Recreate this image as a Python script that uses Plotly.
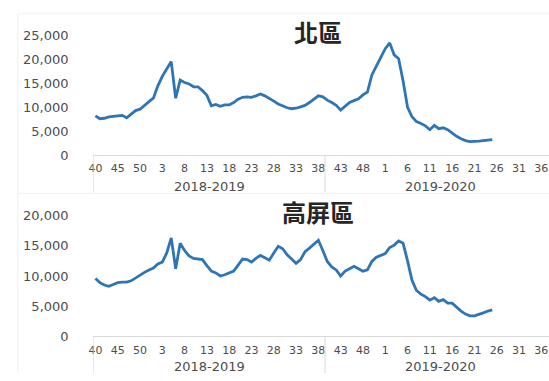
import plotly.graph_objects as go

# Epidemiological weeks 40..52 then 1..39 make up one influenza season
season_weeks = list(range(40, 53)) + list(range(1, 40))
seasons = ["2018-2019", "2019-2020"]
week_labels = season_weeks * len(seasons)

# Weekly visit counts, from week 40 of 2018 onward
north_cases = [
    8200, 7600, 7700, 8000, 8100, 8200, 8300, 7800, 8500, 9300,
    9600, 10500, 11200, 11900, 14500, 16500, 18000, 19600, 11900, 15700,
    15200, 14900, 14300, 14300, 13500, 12500, 10300, 10600, 10200, 10500,
    10500, 11000, 11700, 12100, 12200, 12100, 12400, 12800, 12400, 11900,
    11300, 10700, 10300, 9900, 9700, 9800, 10100, 10400, 11000, 11800,
    12400, 12200, 11500, 11000, 10400, 9400, 10200, 11000, 11400, 11800,
    12600, 13200, 16800, 18800, 20500, 22300, 23500, 21000, 20200, 15500,
    10000, 8000, 7000, 6600, 6100, 5300, 6200, 5500, 5700, 5300,
    4500, 3900, 3400, 3000, 2800, 2800, 2900, 3000, 3100, 3200,
]
kaoping_cases = [
    9600, 8900, 8500, 8300, 8600, 8900, 9000, 9000, 9200, 9700,
    10200, 10600, 11000, 11300, 12000, 12300, 13800, 16300, 11200, 15400,
    14200, 13300, 12900, 12800, 12700, 11700, 10800, 10500, 10000, 10200,
    10500, 10800, 11800, 12800, 12700, 12300, 12900, 13400, 13000, 12600,
    13800, 14900, 14500, 13500, 12800, 12100, 12700, 14000, 14600, 15200,
    15900, 14200, 12400, 11500, 11000, 10000, 10800, 11200, 11600, 11200,
    10800, 11000, 12400, 13100, 13400, 13700, 14700, 15100, 15800, 15400,
    12500, 9300, 7600, 7000, 6600, 6000, 6400, 5800, 6100, 5500,
    5500, 4800, 4200, 3700, 3400, 3400, 3600, 3900, 4200, 4400,
]
panel_titles = ["北區", "高屏區"]
y_max = [25000, 20000]

W, H = 549, 381
LINE = "#2e75b6"
GREY = "#4d4d4d"
AXIS = "#d9d9d9"
FONT = "DejaVu Sans"

tick_idx = list(range(0, len(week_labels), 5))
tick_txt = [str(week_labels[i]) for i in tick_idx]

fig = go.Figure()

# pixel layout of each panel
panels = [
    dict(top=30, bottom=154, title_y=25, season_y=187, div_bottom=193),
    dict(top=217, bottom=343, title_y=213, season_y=374, div_bottom=381),
]
x_left = 89
px_per_week = 4.5
x_range = [-0.5, -0.5 + (W - x_left) / px_per_week]

series = [north_cases, kaoping_cases]
shapes = []
annotations = []
for k, (vals, p) in enumerate(zip(series, panels)):
    xa = "x" if k == 0 else f"x{k + 1}"
    ya = "y" if k == 0 else f"y{k + 1}"
    fig.add_trace(go.Scatter(
        x=list(range(len(vals))), y=vals, mode="lines",
        line=dict(color=LINE, width=2.8), xaxis=xa, yaxis=ya,
        showlegend=False, hoverinfo="skip",
    ))
    xkey = "xaxis" if k == 0 else f"xaxis{k + 1}"
    ykey = "yaxis" if k == 0 else f"yaxis{k + 1}"
    fig.update_layout({
        xkey: dict(
            domain=[x_left / W, 1], range=x_range, anchor=ya,
            tickmode="array", tickvals=tick_idx, ticktext=tick_txt,
            ticks="outside", ticklen=3, tickcolor="rgba(0,0,0,0)",
            showgrid=False, zeroline=False, showline=True, linecolor=AXIS,
            linewidth=1, tickfont=dict(family=FONT, size=11, color=GREY),
        ),
        ykey: dict(
            domain=[1 - p["bottom"] / H, 1 - p["top"] / H],
            range=[0, y_max[k]], dtick=5000, anchor=xa,
            tickformat=",d", showgrid=False, zeroline=False, showline=False,
            ticks="outside", ticklen=21, tickcolor="rgba(0,0,0,0)",
            tickfont=dict(family=FONT, size=13, color=GREY),
        ),
    })
    # category group dividers below the axis
    for xv in [-0.5, 51.5]:
        shapes.append(dict(
            type="line", xref=xa, yref="paper", x0=xv, x1=xv,
            y0=1 - p["bottom"] / H, y1=1 - p["div_bottom"] / H,
            line=dict(color=AXIS, width=1),
        ))
    for s, name in enumerate(seasons):
        annotations.append(dict(
            text=name, xref=xa, yref="paper", x=s * 52 + 25.5,
            y=1 - p["season_y"] / H, showarrow=False, xanchor="center",
            yanchor="middle", font=dict(family=FONT, size=13, color=GREY),
        ))
    annotations.append(dict(
        text=f"<b>{panel_titles[k]}</b>", xref="paper", yref="paper",
        x=316 / W, y=1 - p["title_y"] / H, showarrow=False,
        xanchor="center", yanchor="middle",
        font=dict(family="Noto Sans CJK TC", size=24, color="#262626"),
    ))

# faint chart-area borders
shapes.append(dict(type="line", xref="paper", yref="paper", x0=13 / W, x1=13 / W,
                   y0=0, y1=1 - 7 / H, line=dict(color="#eeeeee", width=1)))
shapes.append(dict(type="line", xref="paper", yref="paper", x0=13 / W, x1=1,
                   y0=1 - 7 / H, y1=1 - 7 / H, line=dict(color="#f2f2f2", width=1)))
shapes.append(dict(type="line", xref="paper", yref="paper", x0=13 / W, x1=1,
                   y0=1 - 194 / H, y1=1 - 194 / H, line=dict(color="#f0f0f0", width=1)))

fig.update_layout(
    width=W, height=H, margin=dict(l=0, r=0, t=0, b=0),
    paper_bgcolor="white", plot_bgcolor="white",
    shapes=shapes, annotations=annotations,
)

fig.write_html("out.html")
